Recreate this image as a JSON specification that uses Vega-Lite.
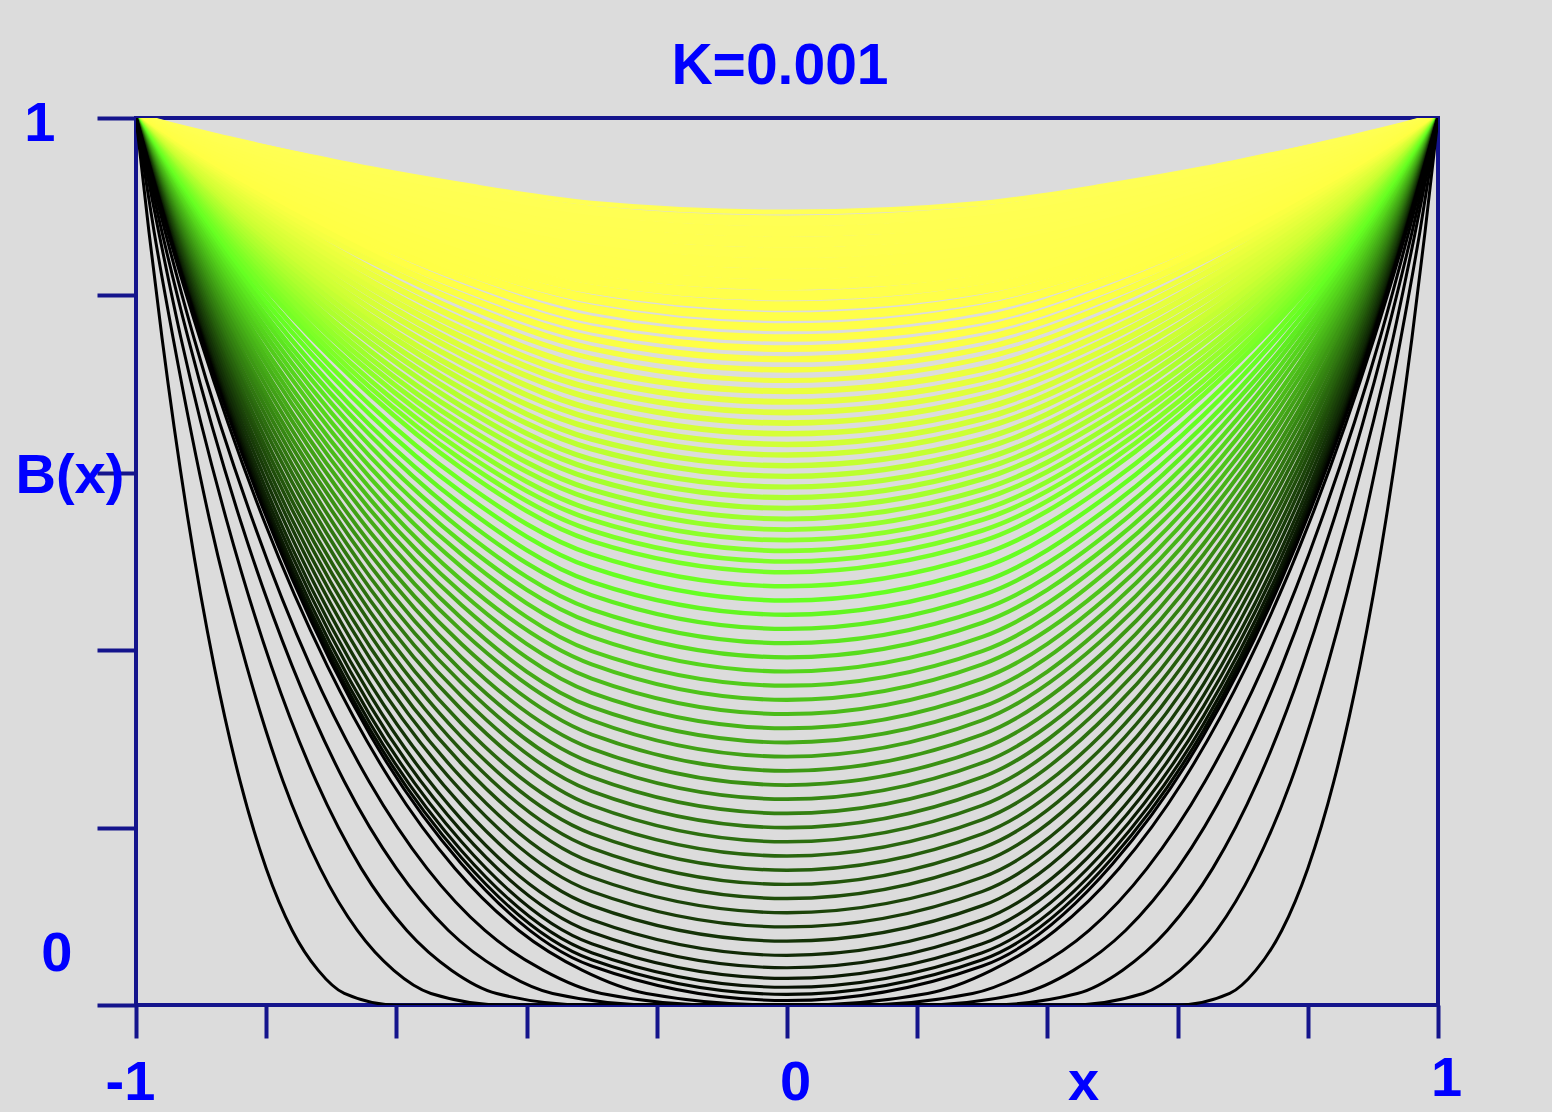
{
"$schema":"https://vega.github.io/schema/vega-lite/v6.json",
"width":1302,"height":887,
"autosize":{"type":"none"},
"padding":{"left":136,"top":118,"right":114,"bottom":107},
"background":"#dcdcdc",
"title":{"text":"K=0.001","font":"Liberation Sans","fontSize":57,"fontWeight":"bold","color":"#0000ff","anchor":"middle","frame":"group","dx":-7,"dy":58,"offset":12,"baseline":"alphabetic"},
"config":{"view":{"stroke":"#14148c","strokeWidth":4}},
"data":{"values":[
{"k":73,"x":-1,"b":1},{"k":73,"x":-0.94,"b":0.989},{"k":73,"x":-0.86,"b":0.976},{"k":73,"x":-0.76,"b":0.961},{"k":73,"x":-0.64,"b":0.943},{"k":73,"x":-0.5,"b":0.925},{"k":73,"x":-0.3,"b":0.904},{"k":73,"x":0,"b":0.894},{"k":73,"x":0.3,"b":0.904},{"k":73,"x":0.5,"b":0.925},{"k":73,"x":0.64,"b":0.943},{"k":73,"x":0.76,"b":0.961},{"k":73,"x":0.86,"b":0.976},{"k":73,"x":0.94,"b":0.989},{"k":73,"x":1,"b":1},
{"k":72,"x":-1,"b":1},{"k":72,"x":-0.94,"b":0.988},{"k":72,"x":-0.86,"b":0.974},{"k":72,"x":-0.76,"b":0.957},{"k":72,"x":-0.64,"b":0.938},{"k":72,"x":-0.5,"b":0.917},{"k":72,"x":-0.3,"b":0.895},{"k":72,"x":0,"b":0.884},{"k":72,"x":0.3,"b":0.895},{"k":72,"x":0.5,"b":0.917},{"k":72,"x":0.64,"b":0.938},{"k":72,"x":0.76,"b":0.957},{"k":72,"x":0.86,"b":0.974},{"k":72,"x":0.94,"b":0.988},{"k":72,"x":1,"b":1},
{"k":71,"x":-1,"b":1},{"k":71,"x":-0.94,"b":0.987},{"k":71,"x":-0.86,"b":0.971},{"k":71,"x":-0.76,"b":0.952},{"k":71,"x":-0.64,"b":0.931},{"k":71,"x":-0.5,"b":0.909},{"k":71,"x":-0.3,"b":0.884},{"k":71,"x":0,"b":0.872},{"k":71,"x":0.3,"b":0.884},{"k":71,"x":0.5,"b":0.909},{"k":71,"x":0.64,"b":0.931},{"k":71,"x":0.76,"b":0.952},{"k":71,"x":0.86,"b":0.971},{"k":71,"x":0.94,"b":0.987},{"k":71,"x":1,"b":1},
{"k":70,"x":-1,"b":1},{"k":70,"x":-0.94,"b":0.986},{"k":70,"x":-0.86,"b":0.968},{"k":70,"x":-0.76,"b":0.947},{"k":70,"x":-0.64,"b":0.924},{"k":70,"x":-0.5,"b":0.9},{"k":70,"x":-0.3,"b":0.873},{"k":70,"x":0,"b":0.86},{"k":70,"x":0.3,"b":0.873},{"k":70,"x":0.5,"b":0.9},{"k":70,"x":0.64,"b":0.924},{"k":70,"x":0.76,"b":0.947},{"k":70,"x":0.86,"b":0.968},{"k":70,"x":0.94,"b":0.986},{"k":70,"x":1,"b":1},
{"k":69,"x":-1,"b":1},{"k":69,"x":-0.94,"b":0.984},{"k":69,"x":-0.86,"b":0.965},{"k":69,"x":-0.76,"b":0.943},{"k":69,"x":-0.64,"b":0.917},{"k":69,"x":-0.5,"b":0.891},{"k":69,"x":-0.3,"b":0.862},{"k":69,"x":0,"b":0.848},{"k":69,"x":0.3,"b":0.862},{"k":69,"x":0.5,"b":0.891},{"k":69,"x":0.64,"b":0.917},{"k":69,"x":0.76,"b":0.943},{"k":69,"x":0.86,"b":0.965},{"k":69,"x":0.94,"b":0.984},{"k":69,"x":1,"b":1},
{"k":68,"x":-1,"b":1},{"k":68,"x":-0.94,"b":0.983},{"k":68,"x":-0.86,"b":0.962},{"k":68,"x":-0.76,"b":0.938},{"k":68,"x":-0.64,"b":0.911},{"k":68,"x":-0.5,"b":0.882},{"k":68,"x":-0.3,"b":0.851},{"k":68,"x":0,"b":0.836},{"k":68,"x":0.3,"b":0.851},{"k":68,"x":0.5,"b":0.882},{"k":68,"x":0.64,"b":0.911},{"k":68,"x":0.76,"b":0.938},{"k":68,"x":0.86,"b":0.962},{"k":68,"x":0.94,"b":0.983},{"k":68,"x":1,"b":1},
{"k":67,"x":-1,"b":1},{"k":67,"x":-0.94,"b":0.982},{"k":67,"x":-0.86,"b":0.959},{"k":67,"x":-0.76,"b":0.933},{"k":67,"x":-0.64,"b":0.904},{"k":67,"x":-0.5,"b":0.873},{"k":67,"x":-0.3,"b":0.84},{"k":67,"x":0,"b":0.824},{"k":67,"x":0.3,"b":0.84},{"k":67,"x":0.5,"b":0.873},{"k":67,"x":0.64,"b":0.904},{"k":67,"x":0.76,"b":0.933},{"k":67,"x":0.86,"b":0.959},{"k":67,"x":0.94,"b":0.982},{"k":67,"x":1,"b":1},
{"k":66,"x":-1,"b":1},{"k":66,"x":-0.94,"b":0.98},{"k":66,"x":-0.86,"b":0.956},{"k":66,"x":-0.76,"b":0.928},{"k":66,"x":-0.64,"b":0.897},{"k":66,"x":-0.5,"b":0.864},{"k":66,"x":-0.3,"b":0.829},{"k":66,"x":0,"b":0.812},{"k":66,"x":0.3,"b":0.829},{"k":66,"x":0.5,"b":0.864},{"k":66,"x":0.64,"b":0.897},{"k":66,"x":0.76,"b":0.928},{"k":66,"x":0.86,"b":0.956},{"k":66,"x":0.94,"b":0.98},{"k":66,"x":1,"b":1},
{"k":65,"x":-1,"b":1},{"k":65,"x":-0.94,"b":0.979},{"k":65,"x":-0.86,"b":0.953},{"k":65,"x":-0.76,"b":0.923},{"k":65,"x":-0.64,"b":0.89},{"k":65,"x":-0.5,"b":0.855},{"k":65,"x":-0.3,"b":0.818},{"k":65,"x":0,"b":0.8},{"k":65,"x":0.3,"b":0.818},{"k":65,"x":0.5,"b":0.855},{"k":65,"x":0.64,"b":0.89},{"k":65,"x":0.76,"b":0.923},{"k":65,"x":0.86,"b":0.953},{"k":65,"x":0.94,"b":0.979},{"k":65,"x":1,"b":1},
{"k":64,"x":-1,"b":1},{"k":64,"x":-0.94,"b":0.977},{"k":64,"x":-0.86,"b":0.95},{"k":64,"x":-0.76,"b":0.918},{"k":64,"x":-0.64,"b":0.882},{"k":64,"x":-0.5,"b":0.846},{"k":64,"x":-0.3,"b":0.807},{"k":64,"x":0,"b":0.788},{"k":64,"x":0.3,"b":0.807},{"k":64,"x":0.5,"b":0.846},{"k":64,"x":0.64,"b":0.882},{"k":64,"x":0.76,"b":0.918},{"k":64,"x":0.86,"b":0.95},{"k":64,"x":0.94,"b":0.977},{"k":64,"x":1,"b":1},
{"k":63,"x":-1,"b":1},{"k":63,"x":-0.94,"b":0.976},{"k":63,"x":-0.86,"b":0.946},{"k":63,"x":-0.76,"b":0.913},{"k":63,"x":-0.64,"b":0.875},{"k":63,"x":-0.5,"b":0.837},{"k":63,"x":-0.3,"b":0.796},{"k":63,"x":0,"b":0.776},{"k":63,"x":0.3,"b":0.796},{"k":63,"x":0.5,"b":0.837},{"k":63,"x":0.64,"b":0.875},{"k":63,"x":0.76,"b":0.913},{"k":63,"x":0.86,"b":0.946},{"k":63,"x":0.94,"b":0.976},{"k":63,"x":1,"b":1},
{"k":62,"x":-1,"b":1},{"k":62,"x":-0.94,"b":0.975},{"k":62,"x":-0.86,"b":0.943},{"k":62,"x":-0.76,"b":0.907},{"k":62,"x":-0.64,"b":0.868},{"k":62,"x":-0.5,"b":0.828},{"k":62,"x":-0.3,"b":0.785},{"k":62,"x":0,"b":0.764},{"k":62,"x":0.3,"b":0.785},{"k":62,"x":0.5,"b":0.828},{"k":62,"x":0.64,"b":0.868},{"k":62,"x":0.76,"b":0.907},{"k":62,"x":0.86,"b":0.943},{"k":62,"x":0.94,"b":0.975},{"k":62,"x":1,"b":1},
{"k":61,"x":-1,"b":1},{"k":61,"x":-0.94,"b":0.973},{"k":61,"x":-0.86,"b":0.94},{"k":61,"x":-0.76,"b":0.902},{"k":61,"x":-0.64,"b":0.861},{"k":61,"x":-0.5,"b":0.819},{"k":61,"x":-0.3,"b":0.773},{"k":61,"x":0,"b":0.752},{"k":61,"x":0.3,"b":0.773},{"k":61,"x":0.5,"b":0.819},{"k":61,"x":0.64,"b":0.861},{"k":61,"x":0.76,"b":0.902},{"k":61,"x":0.86,"b":0.94},{"k":61,"x":0.94,"b":0.973},{"k":61,"x":1,"b":1},
{"k":60,"x":-1,"b":1},{"k":60,"x":-0.94,"b":0.972},{"k":60,"x":-0.86,"b":0.937},{"k":60,"x":-0.76,"b":0.897},{"k":60,"x":-0.64,"b":0.853},{"k":60,"x":-0.5,"b":0.809},{"k":60,"x":-0.3,"b":0.762},{"k":60,"x":0,"b":0.74},{"k":60,"x":0.3,"b":0.762},{"k":60,"x":0.5,"b":0.809},{"k":60,"x":0.64,"b":0.853},{"k":60,"x":0.76,"b":0.897},{"k":60,"x":0.86,"b":0.937},{"k":60,"x":0.94,"b":0.972},{"k":60,"x":1,"b":1},
{"k":59,"x":-1,"b":1},{"k":59,"x":-0.94,"b":0.97},{"k":59,"x":-0.86,"b":0.933},{"k":59,"x":-0.76,"b":0.892},{"k":59,"x":-0.64,"b":0.846},{"k":59,"x":-0.5,"b":0.8},{"k":59,"x":-0.3,"b":0.751},{"k":59,"x":0,"b":0.728},{"k":59,"x":0.3,"b":0.751},{"k":59,"x":0.5,"b":0.8},{"k":59,"x":0.64,"b":0.846},{"k":59,"x":0.76,"b":0.892},{"k":59,"x":0.86,"b":0.933},{"k":59,"x":0.94,"b":0.97},{"k":59,"x":1,"b":1},
{"k":58,"x":-1,"b":1},{"k":58,"x":-0.94,"b":0.969},{"k":58,"x":-0.86,"b":0.93},{"k":58,"x":-0.76,"b":0.886},{"k":58,"x":-0.64,"b":0.839},{"k":58,"x":-0.5,"b":0.791},{"k":58,"x":-0.3,"b":0.74},{"k":58,"x":0,"b":0.716},{"k":58,"x":0.3,"b":0.74},{"k":58,"x":0.5,"b":0.791},{"k":58,"x":0.64,"b":0.839},{"k":58,"x":0.76,"b":0.886},{"k":58,"x":0.86,"b":0.93},{"k":58,"x":0.94,"b":0.969},{"k":58,"x":1,"b":1},
{"k":57,"x":-1,"b":1},{"k":57,"x":-0.94,"b":0.967},{"k":57,"x":-0.86,"b":0.927},{"k":57,"x":-0.76,"b":0.881},{"k":57,"x":-0.64,"b":0.831},{"k":57,"x":-0.5,"b":0.781},{"k":57,"x":-0.3,"b":0.729},{"k":57,"x":0,"b":0.704},{"k":57,"x":0.3,"b":0.729},{"k":57,"x":0.5,"b":0.781},{"k":57,"x":0.64,"b":0.831},{"k":57,"x":0.76,"b":0.881},{"k":57,"x":0.86,"b":0.927},{"k":57,"x":0.94,"b":0.967},{"k":57,"x":1,"b":1},
{"k":56,"x":-1,"b":1},{"k":56,"x":-0.94,"b":0.965},{"k":56,"x":-0.86,"b":0.923},{"k":56,"x":-0.76,"b":0.875},{"k":56,"x":-0.64,"b":0.824},{"k":56,"x":-0.5,"b":0.772},{"k":56,"x":-0.3,"b":0.717},{"k":56,"x":0,"b":0.692},{"k":56,"x":0.3,"b":0.717},{"k":56,"x":0.5,"b":0.772},{"k":56,"x":0.64,"b":0.824},{"k":56,"x":0.76,"b":0.875},{"k":56,"x":0.86,"b":0.923},{"k":56,"x":0.94,"b":0.965},{"k":56,"x":1,"b":1},
{"k":55,"x":-1,"b":1},{"k":55,"x":-0.94,"b":0.964},{"k":55,"x":-0.86,"b":0.92},{"k":55,"x":-0.76,"b":0.87},{"k":55,"x":-0.64,"b":0.816},{"k":55,"x":-0.5,"b":0.762},{"k":55,"x":-0.3,"b":0.706},{"k":55,"x":0,"b":0.68},{"k":55,"x":0.3,"b":0.706},{"k":55,"x":0.5,"b":0.762},{"k":55,"x":0.64,"b":0.816},{"k":55,"x":0.76,"b":0.87},{"k":55,"x":0.86,"b":0.92},{"k":55,"x":0.94,"b":0.964},{"k":55,"x":1,"b":1},
{"k":54,"x":-1,"b":1},{"k":54,"x":-0.94,"b":0.962},{"k":54,"x":-0.86,"b":0.916},{"k":54,"x":-0.76,"b":0.864},{"k":54,"x":-0.64,"b":0.809},{"k":54,"x":-0.5,"b":0.753},{"k":54,"x":-0.3,"b":0.695},{"k":54,"x":0,"b":0.668},{"k":54,"x":0.3,"b":0.695},{"k":54,"x":0.5,"b":0.753},{"k":54,"x":0.64,"b":0.809},{"k":54,"x":0.76,"b":0.864},{"k":54,"x":0.86,"b":0.916},{"k":54,"x":0.94,"b":0.962},{"k":54,"x":1,"b":1},
{"k":53,"x":-1,"b":1},{"k":53,"x":-0.94,"b":0.961},{"k":53,"x":-0.86,"b":0.913},{"k":53,"x":-0.76,"b":0.859},{"k":53,"x":-0.64,"b":0.801},{"k":53,"x":-0.5,"b":0.743},{"k":53,"x":-0.3,"b":0.684},{"k":53,"x":0,"b":0.656},{"k":53,"x":0.3,"b":0.684},{"k":53,"x":0.5,"b":0.743},{"k":53,"x":0.64,"b":0.801},{"k":53,"x":0.76,"b":0.859},{"k":53,"x":0.86,"b":0.913},{"k":53,"x":0.94,"b":0.961},{"k":53,"x":1,"b":1},
{"k":52,"x":-1,"b":1},{"k":52,"x":-0.94,"b":0.959},{"k":52,"x":-0.86,"b":0.909},{"k":52,"x":-0.76,"b":0.853},{"k":52,"x":-0.64,"b":0.793},{"k":52,"x":-0.5,"b":0.734},{"k":52,"x":-0.3,"b":0.672},{"k":52,"x":0,"b":0.644},{"k":52,"x":0.3,"b":0.672},{"k":52,"x":0.5,"b":0.734},{"k":52,"x":0.64,"b":0.793},{"k":52,"x":0.76,"b":0.853},{"k":52,"x":0.86,"b":0.909},{"k":52,"x":0.94,"b":0.959},{"k":52,"x":1,"b":1},
{"k":51,"x":-1,"b":1},{"k":51,"x":-0.94,"b":0.957},{"k":51,"x":-0.86,"b":0.905},{"k":51,"x":-0.76,"b":0.847},{"k":51,"x":-0.64,"b":0.785},{"k":51,"x":-0.5,"b":0.724},{"k":51,"x":-0.3,"b":0.661},{"k":51,"x":0,"b":0.632},{"k":51,"x":0.3,"b":0.661},{"k":51,"x":0.5,"b":0.724},{"k":51,"x":0.64,"b":0.785},{"k":51,"x":0.76,"b":0.847},{"k":51,"x":0.86,"b":0.905},{"k":51,"x":0.94,"b":0.957},{"k":51,"x":1,"b":1},
{"k":50,"x":-1,"b":1},{"k":50,"x":-0.94,"b":0.956},{"k":50,"x":-0.86,"b":0.902},{"k":50,"x":-0.76,"b":0.842},{"k":50,"x":-0.64,"b":0.777},{"k":50,"x":-0.5,"b":0.714},{"k":50,"x":-0.3,"b":0.65},{"k":50,"x":0,"b":0.62},{"k":50,"x":0.3,"b":0.65},{"k":50,"x":0.5,"b":0.714},{"k":50,"x":0.64,"b":0.777},{"k":50,"x":0.76,"b":0.842},{"k":50,"x":0.86,"b":0.902},{"k":50,"x":0.94,"b":0.956},{"k":50,"x":1,"b":1},
{"k":49,"x":-1,"b":1},{"k":49,"x":-0.94,"b":0.954},{"k":49,"x":-0.86,"b":0.898},{"k":49,"x":-0.76,"b":0.836},{"k":49,"x":-0.64,"b":0.77},{"k":49,"x":-0.5,"b":0.705},{"k":49,"x":-0.3,"b":0.638},{"k":49,"x":0,"b":0.608},{"k":49,"x":0.3,"b":0.638},{"k":49,"x":0.5,"b":0.705},{"k":49,"x":0.64,"b":0.77},{"k":49,"x":0.76,"b":0.836},{"k":49,"x":0.86,"b":0.898},{"k":49,"x":0.94,"b":0.954},{"k":49,"x":1,"b":1},
{"k":48,"x":-1,"b":1},{"k":48,"x":-0.94,"b":0.952},{"k":48,"x":-0.86,"b":0.894},{"k":48,"x":-0.76,"b":0.83},{"k":48,"x":-0.64,"b":0.762},{"k":48,"x":-0.5,"b":0.695},{"k":48,"x":-0.3,"b":0.627},{"k":48,"x":0,"b":0.596},{"k":48,"x":0.3,"b":0.627},{"k":48,"x":0.5,"b":0.695},{"k":48,"x":0.64,"b":0.762},{"k":48,"x":0.76,"b":0.83},{"k":48,"x":0.86,"b":0.894},{"k":48,"x":0.94,"b":0.952},{"k":48,"x":1,"b":1},
{"k":47,"x":-1,"b":1},{"k":47,"x":-0.94,"b":0.951},{"k":47,"x":-0.86,"b":0.891},{"k":47,"x":-0.76,"b":0.824},{"k":47,"x":-0.64,"b":0.754},{"k":47,"x":-0.5,"b":0.685},{"k":47,"x":-0.3,"b":0.615},{"k":47,"x":0,"b":0.584},{"k":47,"x":0.3,"b":0.615},{"k":47,"x":0.5,"b":0.685},{"k":47,"x":0.64,"b":0.754},{"k":47,"x":0.76,"b":0.824},{"k":47,"x":0.86,"b":0.891},{"k":47,"x":0.94,"b":0.951},{"k":47,"x":1,"b":1},
{"k":46,"x":-1,"b":1},{"k":46,"x":-0.94,"b":0.949},{"k":46,"x":-0.86,"b":0.887},{"k":46,"x":-0.76,"b":0.818},{"k":46,"x":-0.64,"b":0.746},{"k":46,"x":-0.5,"b":0.675},{"k":46,"x":-0.3,"b":0.604},{"k":46,"x":0,"b":0.572},{"k":46,"x":0.3,"b":0.604},{"k":46,"x":0.5,"b":0.675},{"k":46,"x":0.64,"b":0.746},{"k":46,"x":0.76,"b":0.818},{"k":46,"x":0.86,"b":0.887},{"k":46,"x":0.94,"b":0.949},{"k":46,"x":1,"b":1},
{"k":45,"x":-1,"b":1},{"k":45,"x":-0.94,"b":0.947},{"k":45,"x":-0.86,"b":0.883},{"k":45,"x":-0.76,"b":0.812},{"k":45,"x":-0.64,"b":0.737},{"k":45,"x":-0.5,"b":0.665},{"k":45,"x":-0.3,"b":0.593},{"k":45,"x":0,"b":0.56},{"k":45,"x":0.3,"b":0.593},{"k":45,"x":0.5,"b":0.665},{"k":45,"x":0.64,"b":0.737},{"k":45,"x":0.76,"b":0.812},{"k":45,"x":0.86,"b":0.883},{"k":45,"x":0.94,"b":0.947},{"k":45,"x":1,"b":1},
{"k":44,"x":-1,"b":1},{"k":44,"x":-0.94,"b":0.945},{"k":44,"x":-0.86,"b":0.879},{"k":44,"x":-0.76,"b":0.806},{"k":44,"x":-0.64,"b":0.729},{"k":44,"x":-0.5,"b":0.655},{"k":44,"x":-0.3,"b":0.581},{"k":44,"x":0,"b":0.548},{"k":44,"x":0.3,"b":0.581},{"k":44,"x":0.5,"b":0.655},{"k":44,"x":0.64,"b":0.729},{"k":44,"x":0.76,"b":0.806},{"k":44,"x":0.86,"b":0.879},{"k":44,"x":0.94,"b":0.945},{"k":44,"x":1,"b":1},
{"k":43,"x":-1,"b":1},{"k":43,"x":-0.94,"b":0.944},{"k":43,"x":-0.86,"b":0.875},{"k":43,"x":-0.76,"b":0.8},{"k":43,"x":-0.64,"b":0.721},{"k":43,"x":-0.5,"b":0.645},{"k":43,"x":-0.3,"b":0.57},{"k":43,"x":0,"b":0.536},{"k":43,"x":0.3,"b":0.57},{"k":43,"x":0.5,"b":0.645},{"k":43,"x":0.64,"b":0.721},{"k":43,"x":0.76,"b":0.8},{"k":43,"x":0.86,"b":0.875},{"k":43,"x":0.94,"b":0.944},{"k":43,"x":1,"b":1},
{"k":42,"x":-1,"b":1},{"k":42,"x":-0.94,"b":0.942},{"k":42,"x":-0.86,"b":0.871},{"k":42,"x":-0.76,"b":0.794},{"k":42,"x":-0.64,"b":0.713},{"k":42,"x":-0.5,"b":0.635},{"k":42,"x":-0.3,"b":0.558},{"k":42,"x":0,"b":0.524},{"k":42,"x":0.3,"b":0.558},{"k":42,"x":0.5,"b":0.635},{"k":42,"x":0.64,"b":0.713},{"k":42,"x":0.76,"b":0.794},{"k":42,"x":0.86,"b":0.871},{"k":42,"x":0.94,"b":0.942},{"k":42,"x":1,"b":1},
{"k":41,"x":-1,"b":1},{"k":41,"x":-0.94,"b":0.94},{"k":41,"x":-0.86,"b":0.867},{"k":41,"x":-0.76,"b":0.787},{"k":41,"x":-0.64,"b":0.704},{"k":41,"x":-0.5,"b":0.625},{"k":41,"x":-0.3,"b":0.547},{"k":41,"x":0,"b":0.512},{"k":41,"x":0.3,"b":0.547},{"k":41,"x":0.5,"b":0.625},{"k":41,"x":0.64,"b":0.704},{"k":41,"x":0.76,"b":0.787},{"k":41,"x":0.86,"b":0.867},{"k":41,"x":0.94,"b":0.94},{"k":41,"x":1,"b":1},
{"k":40,"x":-1,"b":1},{"k":40,"x":-0.94,"b":0.938},{"k":40,"x":-0.86,"b":0.863},{"k":40,"x":-0.76,"b":0.781},{"k":40,"x":-0.64,"b":0.696},{"k":40,"x":-0.5,"b":0.615},{"k":40,"x":-0.3,"b":0.535},{"k":40,"x":0,"b":0.5},{"k":40,"x":0.3,"b":0.535},{"k":40,"x":0.5,"b":0.615},{"k":40,"x":0.64,"b":0.696},{"k":40,"x":0.76,"b":0.781},{"k":40,"x":0.86,"b":0.863},{"k":40,"x":0.94,"b":0.938},{"k":40,"x":1,"b":1},
{"k":39,"x":-1,"b":1},{"k":39,"x":-0.94,"b":0.936},{"k":39,"x":-0.86,"b":0.859},{"k":39,"x":-0.76,"b":0.775},{"k":39,"x":-0.64,"b":0.688},{"k":39,"x":-0.5,"b":0.605},{"k":39,"x":-0.3,"b":0.523},{"k":39,"x":0,"b":0.488},{"k":39,"x":0.3,"b":0.523},{"k":39,"x":0.5,"b":0.605},{"k":39,"x":0.64,"b":0.688},{"k":39,"x":0.76,"b":0.775},{"k":39,"x":0.86,"b":0.859},{"k":39,"x":0.94,"b":0.936},{"k":39,"x":1,"b":1},
{"k":38,"x":-1,"b":1},{"k":38,"x":-0.94,"b":0.934},{"k":38,"x":-0.86,"b":0.854},{"k":38,"x":-0.76,"b":0.766},{"k":38,"x":-0.64,"b":0.676},{"k":38,"x":-0.5,"b":0.591},{"k":38,"x":-0.3,"b":0.508},{"k":38,"x":0,"b":0.472},{"k":38,"x":0.3,"b":0.508},{"k":38,"x":0.5,"b":0.591},{"k":38,"x":0.64,"b":0.676},{"k":38,"x":0.76,"b":0.766},{"k":38,"x":0.86,"b":0.854},{"k":38,"x":0.94,"b":0.934},{"k":38,"x":1,"b":1},
{"k":37,"x":-1,"b":1},{"k":37,"x":-0.94,"b":0.931},{"k":37,"x":-0.86,"b":0.848},{"k":37,"x":-0.76,"b":0.758},{"k":37,"x":-0.64,"b":0.665},{"k":37,"x":-0.5,"b":0.578},{"k":37,"x":-0.3,"b":0.493},{"k":37,"x":0,"b":0.456},{"k":37,"x":0.3,"b":0.493},{"k":37,"x":0.5,"b":0.578},{"k":37,"x":0.64,"b":0.665},{"k":37,"x":0.76,"b":0.758},{"k":37,"x":0.86,"b":0.848},{"k":37,"x":0.94,"b":0.931},{"k":37,"x":1,"b":1},
{"k":36,"x":-1,"b":1},{"k":36,"x":-0.94,"b":0.929},{"k":36,"x":-0.86,"b":0.843},{"k":36,"x":-0.76,"b":0.749},{"k":36,"x":-0.64,"b":0.653},{"k":36,"x":-0.5,"b":0.564},{"k":36,"x":-0.3,"b":0.477},{"k":36,"x":0,"b":0.44},{"k":36,"x":0.3,"b":0.477},{"k":36,"x":0.5,"b":0.564},{"k":36,"x":0.64,"b":0.653},{"k":36,"x":0.76,"b":0.749},{"k":36,"x":0.86,"b":0.843},{"k":36,"x":0.94,"b":0.929},{"k":36,"x":1,"b":1},
{"k":35,"x":-1,"b":1},{"k":35,"x":-0.94,"b":0.926},{"k":35,"x":-0.86,"b":0.837},{"k":35,"x":-0.76,"b":0.74},{"k":35,"x":-0.64,"b":0.642},{"k":35,"x":-0.5,"b":0.55},{"k":35,"x":-0.3,"b":0.462},{"k":35,"x":0,"b":0.424},{"k":35,"x":0.3,"b":0.462},{"k":35,"x":0.5,"b":0.55},{"k":35,"x":0.64,"b":0.642},{"k":35,"x":0.76,"b":0.74},{"k":35,"x":0.86,"b":0.837},{"k":35,"x":0.94,"b":0.926},{"k":35,"x":1,"b":1},
{"k":34,"x":-1,"b":1},{"k":34,"x":-0.94,"b":0.923},{"k":34,"x":-0.86,"b":0.832},{"k":34,"x":-0.76,"b":0.732},{"k":34,"x":-0.64,"b":0.63},{"k":34,"x":-0.5,"b":0.536},{"k":34,"x":-0.3,"b":0.446},{"k":34,"x":0,"b":0.408},{"k":34,"x":0.3,"b":0.446},{"k":34,"x":0.5,"b":0.536},{"k":34,"x":0.64,"b":0.63},{"k":34,"x":0.76,"b":0.732},{"k":34,"x":0.86,"b":0.832},{"k":34,"x":0.94,"b":0.923},{"k":34,"x":1,"b":1},
{"k":33,"x":-1,"b":1},{"k":33,"x":-0.94,"b":0.921},{"k":33,"x":-0.86,"b":0.826},{"k":33,"x":-0.76,"b":0.723},{"k":33,"x":-0.64,"b":0.618},{"k":33,"x":-0.5,"b":0.522},{"k":33,"x":-0.3,"b":0.431},{"k":33,"x":0,"b":0.392},{"k":33,"x":0.3,"b":0.431},{"k":33,"x":0.5,"b":0.522},{"k":33,"x":0.64,"b":0.618},{"k":33,"x":0.76,"b":0.723},{"k":33,"x":0.86,"b":0.826},{"k":33,"x":0.94,"b":0.921},{"k":33,"x":1,"b":1},
{"k":32,"x":-1,"b":1},{"k":32,"x":-0.94,"b":0.918},{"k":32,"x":-0.86,"b":0.82},{"k":32,"x":-0.76,"b":0.714},{"k":32,"x":-0.64,"b":0.606},{"k":32,"x":-0.5,"b":0.508},{"k":32,"x":-0.3,"b":0.415},{"k":32,"x":0,"b":0.376},{"k":32,"x":0.3,"b":0.415},{"k":32,"x":0.5,"b":0.508},{"k":32,"x":0.64,"b":0.606},{"k":32,"x":0.76,"b":0.714},{"k":32,"x":0.86,"b":0.82},{"k":32,"x":0.94,"b":0.918},{"k":32,"x":1,"b":1},
{"k":31,"x":-1,"b":1},{"k":31,"x":-0.94,"b":0.915},{"k":31,"x":-0.86,"b":0.814},{"k":31,"x":-0.76,"b":0.705},{"k":31,"x":-0.64,"b":0.594},{"k":31,"x":-0.5,"b":0.494},{"k":31,"x":-0.3,"b":0.399},{"k":31,"x":0,"b":0.36},{"k":31,"x":0.3,"b":0.399},{"k":31,"x":0.5,"b":0.494},{"k":31,"x":0.64,"b":0.594},{"k":31,"x":0.76,"b":0.705},{"k":31,"x":0.86,"b":0.814},{"k":31,"x":0.94,"b":0.915},{"k":31,"x":1,"b":1},
{"k":30,"x":-1,"b":1},{"k":30,"x":-0.94,"b":0.913},{"k":30,"x":-0.86,"b":0.808},{"k":30,"x":-0.76,"b":0.695},{"k":30,"x":-0.64,"b":0.582},{"k":30,"x":-0.5,"b":0.479},{"k":30,"x":-0.3,"b":0.384},{"k":30,"x":0,"b":0.344},{"k":30,"x":0.3,"b":0.384},{"k":30,"x":0.5,"b":0.479},{"k":30,"x":0.64,"b":0.582},{"k":30,"x":0.76,"b":0.695},{"k":30,"x":0.86,"b":0.808},{"k":30,"x":0.94,"b":0.913},{"k":30,"x":1,"b":1},
{"k":29,"x":-1,"b":1},{"k":29,"x":-0.94,"b":0.91},{"k":29,"x":-0.86,"b":0.802},{"k":29,"x":-0.76,"b":0.686},{"k":29,"x":-0.64,"b":0.57},{"k":29,"x":-0.5,"b":0.465},{"k":29,"x":-0.3,"b":0.368},{"k":29,"x":0,"b":0.328},{"k":29,"x":0.3,"b":0.368},{"k":29,"x":0.5,"b":0.465},{"k":29,"x":0.64,"b":0.57},{"k":29,"x":0.76,"b":0.686},{"k":29,"x":0.86,"b":0.802},{"k":29,"x":0.94,"b":0.91},{"k":29,"x":1,"b":1},
{"k":28,"x":-1,"b":1},{"k":28,"x":-0.94,"b":0.907},{"k":28,"x":-0.86,"b":0.796},{"k":28,"x":-0.76,"b":0.677},{"k":28,"x":-0.64,"b":0.558},{"k":28,"x":-0.5,"b":0.451},{"k":28,"x":-0.3,"b":0.352},{"k":28,"x":0,"b":0.312},{"k":28,"x":0.3,"b":0.352},{"k":28,"x":0.5,"b":0.451},{"k":28,"x":0.64,"b":0.558},{"k":28,"x":0.76,"b":0.677},{"k":28,"x":0.86,"b":0.796},{"k":28,"x":0.94,"b":0.907},{"k":28,"x":1,"b":1},
{"k":27,"x":-1,"b":1},{"k":27,"x":-0.94,"b":0.904},{"k":27,"x":-0.86,"b":0.79},{"k":27,"x":-0.76,"b":0.667},{"k":27,"x":-0.64,"b":0.546},{"k":27,"x":-0.5,"b":0.436},{"k":27,"x":-0.3,"b":0.336},{"k":27,"x":0,"b":0.296},{"k":27,"x":0.3,"b":0.336},{"k":27,"x":0.5,"b":0.436},{"k":27,"x":0.64,"b":0.546},{"k":27,"x":0.76,"b":0.667},{"k":27,"x":0.86,"b":0.79},{"k":27,"x":0.94,"b":0.904},{"k":27,"x":1,"b":1},
{"k":26,"x":-1,"b":1},{"k":26,"x":-0.94,"b":0.901},{"k":26,"x":-0.86,"b":0.784},{"k":26,"x":-0.76,"b":0.658},{"k":26,"x":-0.64,"b":0.533},{"k":26,"x":-0.5,"b":0.422},{"k":26,"x":-0.3,"b":0.321},{"k":26,"x":0,"b":0.28},{"k":26,"x":0.3,"b":0.321},{"k":26,"x":0.5,"b":0.422},{"k":26,"x":0.64,"b":0.533},{"k":26,"x":0.76,"b":0.658},{"k":26,"x":0.86,"b":0.784},{"k":26,"x":0.94,"b":0.901},{"k":26,"x":1,"b":1},
{"k":25,"x":-1,"b":1},{"k":25,"x":-0.94,"b":0.898},{"k":25,"x":-0.86,"b":0.778},{"k":25,"x":-0.76,"b":0.648},{"k":25,"x":-0.64,"b":0.52},{"k":25,"x":-0.5,"b":0.407},{"k":25,"x":-0.3,"b":0.305},{"k":25,"x":0,"b":0.264},{"k":25,"x":0.3,"b":0.305},{"k":25,"x":0.5,"b":0.407},{"k":25,"x":0.64,"b":0.52},{"k":25,"x":0.76,"b":0.648},{"k":25,"x":0.86,"b":0.778},{"k":25,"x":0.94,"b":0.898},{"k":25,"x":1,"b":1},
{"k":24,"x":-1,"b":1},{"k":24,"x":-0.94,"b":0.895},{"k":24,"x":-0.86,"b":0.771},{"k":24,"x":-0.76,"b":0.638},{"k":24,"x":-0.64,"b":0.508},{"k":24,"x":-0.5,"b":0.392},{"k":24,"x":-0.3,"b":0.289},{"k":24,"x":0,"b":0.248},{"k":24,"x":0.3,"b":0.289},{"k":24,"x":0.5,"b":0.392},{"k":24,"x":0.64,"b":0.508},{"k":24,"x":0.76,"b":0.638},{"k":24,"x":0.86,"b":0.771},{"k":24,"x":0.94,"b":0.895},{"k":24,"x":1,"b":1},
{"k":23,"x":-1,"b":1},{"k":23,"x":-0.94,"b":0.892},{"k":23,"x":-0.86,"b":0.765},{"k":23,"x":-0.76,"b":0.629},{"k":23,"x":-0.64,"b":0.495},{"k":23,"x":-0.5,"b":0.377},{"k":23,"x":-0.3,"b":0.273},{"k":23,"x":0,"b":0.232},{"k":23,"x":0.3,"b":0.273},{"k":23,"x":0.5,"b":0.377},{"k":23,"x":0.64,"b":0.495},{"k":23,"x":0.76,"b":0.629},{"k":23,"x":0.86,"b":0.765},{"k":23,"x":0.94,"b":0.892},{"k":23,"x":1,"b":1},
{"k":22,"x":-1,"b":1},{"k":22,"x":-0.94,"b":0.889},{"k":22,"x":-0.86,"b":0.759},{"k":22,"x":-0.76,"b":0.619},{"k":22,"x":-0.64,"b":0.482},{"k":22,"x":-0.5,"b":0.363},{"k":22,"x":-0.3,"b":0.257},{"k":22,"x":0,"b":0.216},{"k":22,"x":0.3,"b":0.257},{"k":22,"x":0.5,"b":0.363},{"k":22,"x":0.64,"b":0.482},{"k":22,"x":0.76,"b":0.619},{"k":22,"x":0.86,"b":0.759},{"k":22,"x":0.94,"b":0.889},{"k":22,"x":1,"b":1},
{"k":21,"x":-1,"b":1},{"k":21,"x":-0.94,"b":0.886},{"k":21,"x":-0.86,"b":0.752},{"k":21,"x":-0.76,"b":0.609},{"k":21,"x":-0.64,"b":0.469},{"k":21,"x":-0.5,"b":0.348},{"k":21,"x":-0.3,"b":0.241},{"k":21,"x":0,"b":0.2},{"k":21,"x":0.3,"b":0.241},{"k":21,"x":0.5,"b":0.348},{"k":21,"x":0.64,"b":0.469},{"k":21,"x":0.76,"b":0.609},{"k":21,"x":0.86,"b":0.752},{"k":21,"x":0.94,"b":0.886},{"k":21,"x":1,"b":1},
{"k":20,"x":-1,"b":1},{"k":20,"x":-0.94,"b":0.883},{"k":20,"x":-0.86,"b":0.745},{"k":20,"x":-0.76,"b":0.599},{"k":20,"x":-0.64,"b":0.456},{"k":20,"x":-0.5,"b":0.333},{"k":20,"x":-0.3,"b":0.225},{"k":20,"x":0,"b":0.184},{"k":20,"x":0.3,"b":0.225},{"k":20,"x":0.5,"b":0.333},{"k":20,"x":0.64,"b":0.456},{"k":20,"x":0.76,"b":0.599},{"k":20,"x":0.86,"b":0.745},{"k":20,"x":0.94,"b":0.883},{"k":20,"x":1,"b":1},
{"k":19,"x":-1,"b":1},{"k":19,"x":-0.94,"b":0.88},{"k":19,"x":-0.86,"b":0.739},{"k":19,"x":-0.76,"b":0.589},{"k":19,"x":-0.64,"b":0.443},{"k":19,"x":-0.5,"b":0.317},{"k":19,"x":-0.3,"b":0.209},{"k":19,"x":0,"b":0.168},{"k":19,"x":0.3,"b":0.209},{"k":19,"x":0.5,"b":0.317},{"k":19,"x":0.64,"b":0.443},{"k":19,"x":0.76,"b":0.589},{"k":19,"x":0.86,"b":0.739},{"k":19,"x":0.94,"b":0.88},{"k":19,"x":1,"b":1},
{"k":18,"x":-1,"b":1},{"k":18,"x":-0.94,"b":0.877},{"k":18,"x":-0.86,"b":0.732},{"k":18,"x":-0.76,"b":0.578},{"k":18,"x":-0.64,"b":0.43},{"k":18,"x":-0.5,"b":0.302},{"k":18,"x":-0.3,"b":0.193},{"k":18,"x":0,"b":0.152},{"k":18,"x":0.3,"b":0.193},{"k":18,"x":0.5,"b":0.302},{"k":18,"x":0.64,"b":0.43},{"k":18,"x":0.76,"b":0.578},{"k":18,"x":0.86,"b":0.732},{"k":18,"x":0.94,"b":0.877},{"k":18,"x":1,"b":1},
{"k":17,"x":-1,"b":1},{"k":17,"x":-0.94,"b":0.874},{"k":17,"x":-0.86,"b":0.725},{"k":17,"x":-0.76,"b":0.568},{"k":17,"x":-0.64,"b":0.417},{"k":17,"x":-0.5,"b":0.287},{"k":17,"x":-0.3,"b":0.177},{"k":17,"x":0,"b":0.136},{"k":17,"x":0.3,"b":0.177},{"k":17,"x":0.5,"b":0.287},{"k":17,"x":0.64,"b":0.417},{"k":17,"x":0.76,"b":0.568},{"k":17,"x":0.86,"b":0.725},{"k":17,"x":0.94,"b":0.874},{"k":17,"x":1,"b":1},
{"k":16,"x":-1,"b":1},{"k":16,"x":-0.94,"b":0.871},{"k":16,"x":-0.86,"b":0.719},{"k":16,"x":-0.76,"b":0.558},{"k":16,"x":-0.64,"b":0.403},{"k":16,"x":-0.5,"b":0.272},{"k":16,"x":-0.3,"b":0.161},{"k":16,"x":0,"b":0.12},{"k":16,"x":0.3,"b":0.161},{"k":16,"x":0.5,"b":0.272},{"k":16,"x":0.64,"b":0.403},{"k":16,"x":0.76,"b":0.558},{"k":16,"x":0.86,"b":0.719},{"k":16,"x":0.94,"b":0.871},{"k":16,"x":1,"b":1},
{"k":15,"x":-1,"b":1},{"k":15,"x":-0.94,"b":0.868},{"k":15,"x":-0.86,"b":0.712},{"k":15,"x":-0.76,"b":0.547},{"k":15,"x":-0.64,"b":0.39},{"k":15,"x":-0.5,"b":0.256},{"k":15,"x":-0.3,"b":0.144},{"k":15,"x":0,"b":0.104},{"k":15,"x":0.3,"b":0.144},{"k":15,"x":0.5,"b":0.256},{"k":15,"x":0.64,"b":0.39},{"k":15,"x":0.76,"b":0.547},{"k":15,"x":0.86,"b":0.712},{"k":15,"x":0.94,"b":0.868},{"k":15,"x":1,"b":1},
{"k":14,"x":-1,"b":1},{"k":14,"x":-0.94,"b":0.864},{"k":14,"x":-0.86,"b":0.705},{"k":14,"x":-0.76,"b":0.537},{"k":14,"x":-0.64,"b":0.376},{"k":14,"x":-0.5,"b":0.241},{"k":14,"x":-0.3,"b":0.128},{"k":14,"x":0,"b":0.088},{"k":14,"x":0.3,"b":0.128},{"k":14,"x":0.5,"b":0.241},{"k":14,"x":0.64,"b":0.376},{"k":14,"x":0.76,"b":0.537},{"k":14,"x":0.86,"b":0.705},{"k":14,"x":0.94,"b":0.864},{"k":14,"x":1,"b":1},
{"k":13,"x":-1,"b":1},{"k":13,"x":-0.94,"b":0.861},{"k":13,"x":-0.86,"b":0.698},{"k":13,"x":-0.76,"b":0.526},{"k":13,"x":-0.64,"b":0.362},{"k":13,"x":-0.5,"b":0.225},{"k":13,"x":-0.3,"b":0.112},{"k":13,"x":0,"b":0.072},{"k":13,"x":0.3,"b":0.112},{"k":13,"x":0.5,"b":0.225},{"k":13,"x":0.64,"b":0.362},{"k":13,"x":0.76,"b":0.526},{"k":13,"x":0.86,"b":0.698},{"k":13,"x":0.94,"b":0.861},{"k":13,"x":1,"b":1},
{"k":12,"x":-1,"b":1},{"k":12,"x":-0.94,"b":0.858},{"k":12,"x":-0.86,"b":0.691},{"k":12,"x":-0.76,"b":0.515},{"k":12,"x":-0.64,"b":0.349},{"k":12,"x":-0.5,"b":0.209},{"k":12,"x":-0.3,"b":0.096},{"k":12,"x":0,"b":0.056},{"k":12,"x":0.3,"b":0.096},{"k":12,"x":0.5,"b":0.209},{"k":12,"x":0.64,"b":0.349},{"k":12,"x":0.76,"b":0.515},{"k":12,"x":0.86,"b":0.691},{"k":12,"x":0.94,"b":0.858},{"k":12,"x":1,"b":1},
{"k":11,"x":-1,"b":1},{"k":11,"x":-0.94,"b":0.855},{"k":11,"x":-0.86,"b":0.684},{"k":11,"x":-0.76,"b":0.506},{"k":11,"x":-0.64,"b":0.337},{"k":11,"x":-0.5,"b":0.196},{"k":11,"x":-0.3,"b":0.082},{"k":11,"x":0,"b":0.042},{"k":11,"x":0.3,"b":0.082},{"k":11,"x":0.5,"b":0.196},{"k":11,"x":0.64,"b":0.337},{"k":11,"x":0.76,"b":0.506},{"k":11,"x":0.86,"b":0.684},{"k":11,"x":0.94,"b":0.855},{"k":11,"x":1,"b":1},
{"k":10,"x":-1,"b":1},{"k":10,"x":-0.94,"b":0.852},{"k":10,"x":-0.86,"b":0.679},{"k":10,"x":-0.76,"b":0.497},{"k":10,"x":-0.64,"b":0.326},{"k":10,"x":-0.5,"b":0.184},{"k":10,"x":-0.3,"b":0.069},{"k":10,"x":0,"b":0.03},{"k":10,"x":0.3,"b":0.069},{"k":10,"x":0.5,"b":0.184},{"k":10,"x":0.64,"b":0.326},{"k":10,"x":0.76,"b":0.497},{"k":10,"x":0.86,"b":0.679},{"k":10,"x":0.94,"b":0.852},{"k":10,"x":1,"b":1},
{"k":9,"x":-1,"b":1},{"k":9,"x":-0.94,"b":0.85},{"k":9,"x":-0.86,"b":0.675},{"k":9,"x":-0.76,"b":0.49},{"k":9,"x":-0.64,"b":0.317},{"k":9,"x":-0.5,"b":0.174},{"k":9,"x":-0.3,"b":0.059},{"k":9,"x":0,"b":0.02},{"k":9,"x":0.3,"b":0.059},{"k":9,"x":0.5,"b":0.174},{"k":9,"x":0.64,"b":0.317},{"k":9,"x":0.76,"b":0.49},{"k":9,"x":0.86,"b":0.675},{"k":9,"x":0.94,"b":0.85},{"k":9,"x":1,"b":1},
{"k":8,"x":-1,"b":1},{"k":8,"x":-0.94,"b":0.849},{"k":8,"x":-0.86,"b":0.671},{"k":8,"x":-0.76,"b":0.485},{"k":8,"x":-0.64,"b":0.31},{"k":8,"x":-0.5,"b":0.166},{"k":8,"x":-0.3,"b":0.051},{"k":8,"x":0,"b":0.012},{"k":8,"x":0.3,"b":0.051},{"k":8,"x":0.5,"b":0.166},{"k":8,"x":0.64,"b":0.31},{"k":8,"x":0.76,"b":0.485},{"k":8,"x":0.86,"b":0.671},{"k":8,"x":0.94,"b":0.849},{"k":8,"x":1,"b":1},
{"k":7,"x":-1,"b":1},{"k":7,"x":-0.94,"b":0.847},{"k":7,"x":-0.86,"b":0.668},{"k":7,"x":-0.76,"b":0.48},{"k":7,"x":-0.64,"b":0.304},{"k":7,"x":-0.5,"b":0.159},{"k":7,"x":-0.3,"b":0.044},{"k":7,"x":0,"b":0.005},{"k":7,"x":0.3,"b":0.044},{"k":7,"x":0.5,"b":0.159},{"k":7,"x":0.64,"b":0.304},{"k":7,"x":0.76,"b":0.48},{"k":7,"x":0.86,"b":0.668},{"k":7,"x":0.94,"b":0.847},{"k":7,"x":1,"b":1},
{"k":6,"x":-1,"b":1},{"k":6,"x":-0.951,"b":0.871},{"k":6,"x":-0.902,"b":0.752},{"k":6,"x":-0.804,"b":0.547},{"k":6,"x":-0.706,"b":0.382},{"k":6,"x":-0.608,"b":0.252},{"k":6,"x":-0.51,"b":0.154},{"k":6,"x":-0.412,"b":0.084},{"k":6,"x":-0.314,"b":0.039},{"k":6,"x":-0.216,"b":0.013},{"k":6,"x":-0.02,"b":0},{"k":6,"x":0,"b":0},{"k":6,"x":0.02,"b":0},{"k":6,"x":0.216,"b":0.013},{"k":6,"x":0.314,"b":0.039},{"k":6,"x":0.412,"b":0.084},{"k":6,"x":0.51,"b":0.154},{"k":6,"x":0.608,"b":0.252},{"k":6,"x":0.706,"b":0.382},{"k":6,"x":0.804,"b":0.547},{"k":6,"x":0.902,"b":0.752},{"k":6,"x":0.951,"b":0.871},{"k":6,"x":1,"b":1},
{"k":5,"x":-1,"b":1},{"k":5,"x":-0.955,"b":0.871},{"k":5,"x":-0.911,"b":0.752},{"k":5,"x":-0.821,"b":0.547},{"k":5,"x":-0.732,"b":0.382},{"k":5,"x":-0.642,"b":0.252},{"k":5,"x":-0.553,"b":0.154},{"k":5,"x":-0.464,"b":0.084},{"k":5,"x":-0.374,"b":0.039},{"k":5,"x":-0.285,"b":0.013},{"k":5,"x":-0.106,"b":0},{"k":5,"x":0,"b":0},{"k":5,"x":0.106,"b":0},{"k":5,"x":0.285,"b":0.013},{"k":5,"x":0.374,"b":0.039},{"k":5,"x":0.464,"b":0.084},{"k":5,"x":0.553,"b":0.154},{"k":5,"x":0.642,"b":0.252},{"k":5,"x":0.732,"b":0.382},{"k":5,"x":0.821,"b":0.547},{"k":5,"x":0.911,"b":0.752},{"k":5,"x":0.955,"b":0.871},{"k":5,"x":1,"b":1},
{"k":4,"x":-1,"b":1},{"k":4,"x":-0.96,"b":0.871},{"k":4,"x":-0.92,"b":0.752},{"k":4,"x":-0.84,"b":0.547},{"k":4,"x":-0.76,"b":0.382},{"k":4,"x":-0.68,"b":0.252},{"k":4,"x":-0.6,"b":0.154},{"k":4,"x":-0.52,"b":0.084},{"k":4,"x":-0.44,"b":0.039},{"k":4,"x":-0.36,"b":0.013},{"k":4,"x":-0.2,"b":0},{"k":4,"x":0,"b":0},{"k":4,"x":0.2,"b":0},{"k":4,"x":0.36,"b":0.013},{"k":4,"x":0.44,"b":0.039},{"k":4,"x":0.52,"b":0.084},{"k":4,"x":0.6,"b":0.154},{"k":4,"x":0.68,"b":0.252},{"k":4,"x":0.76,"b":0.382},{"k":4,"x":0.84,"b":0.547},{"k":4,"x":0.92,"b":0.752},{"k":4,"x":0.96,"b":0.871},{"k":4,"x":1,"b":1},
{"k":3,"x":-1,"b":1},{"k":3,"x":-0.965,"b":0.871},{"k":3,"x":-0.931,"b":0.752},{"k":3,"x":-0.861,"b":0.547},{"k":3,"x":-0.792,"b":0.382},{"k":3,"x":-0.723,"b":0.252},{"k":3,"x":-0.654,"b":0.154},{"k":3,"x":-0.584,"b":0.084},{"k":3,"x":-0.515,"b":0.039},{"k":3,"x":-0.446,"b":0.013},{"k":3,"x":-0.307,"b":0},{"k":3,"x":0,"b":0},{"k":3,"x":0.307,"b":0},{"k":3,"x":0.446,"b":0.013},{"k":3,"x":0.515,"b":0.039},{"k":3,"x":0.584,"b":0.084},{"k":3,"x":0.654,"b":0.154},{"k":3,"x":0.723,"b":0.252},{"k":3,"x":0.792,"b":0.382},{"k":3,"x":0.861,"b":0.547},{"k":3,"x":0.931,"b":0.752},{"k":3,"x":0.965,"b":0.871},{"k":3,"x":1,"b":1},
{"k":2,"x":-1,"b":1},{"k":2,"x":-0.972,"b":0.871},{"k":2,"x":-0.943,"b":0.752},{"k":2,"x":-0.887,"b":0.547},{"k":2,"x":-0.83,"b":0.382},{"k":2,"x":-0.774,"b":0.252},{"k":2,"x":-0.717,"b":0.154},{"k":2,"x":-0.66,"b":0.084},{"k":2,"x":-0.604,"b":0.039},{"k":2,"x":-0.547,"b":0.013},{"k":2,"x":-0.434,"b":0},{"k":2,"x":0,"b":0},{"k":2,"x":0.434,"b":0},{"k":2,"x":0.547,"b":0.013},{"k":2,"x":0.604,"b":0.039},{"k":2,"x":0.66,"b":0.084},{"k":2,"x":0.717,"b":0.154},{"k":2,"x":0.774,"b":0.252},{"k":2,"x":0.83,"b":0.382},{"k":2,"x":0.887,"b":0.547},{"k":2,"x":0.943,"b":0.752},{"k":2,"x":0.972,"b":0.871},{"k":2,"x":1,"b":1},
{"k":1,"x":-1,"b":1},{"k":1,"x":-0.98,"b":0.871},{"k":1,"x":-0.96,"b":0.752},{"k":1,"x":-0.92,"b":0.547},{"k":1,"x":-0.88,"b":0.382},{"k":1,"x":-0.84,"b":0.252},{"k":1,"x":-0.8,"b":0.154},{"k":1,"x":-0.76,"b":0.084},{"k":1,"x":-0.72,"b":0.039},{"k":1,"x":-0.68,"b":0.013},{"k":1,"x":-0.6,"b":0},{"k":1,"x":0,"b":0},{"k":1,"x":0.6,"b":0},{"k":1,"x":0.68,"b":0.013},{"k":1,"x":0.72,"b":0.039},{"k":1,"x":0.76,"b":0.084},{"k":1,"x":0.8,"b":0.154},{"k":1,"x":0.84,"b":0.252},{"k":1,"x":0.88,"b":0.382},{"k":1,"x":0.92,"b":0.547},{"k":1,"x":0.96,"b":0.752},{"k":1,"x":0.98,"b":0.871},{"k":1,"x":1,"b":1}
]},
"encoding":{
"x":{"field":"x","type":"quantitative","scale":{"domain":[-1,1],"nice":false,"zero":false},
"axis":{"values":[-1,-0.8,-0.6,-0.4,-0.2,0,0.2,0.4,0.6,0.8,1],"domain":false,"grid":false,"tickSize":33,"tickWidth":4,"tickColor":"#14148c",
"labelExpr":"datum.value == -1 ? '-1' : (datum.value == 0 ? '0' : (datum.value == 1 ? '1' : ''))",
"labelFont":"Liberation Sans","labelFontSize":56,"labelFontWeight":"bold","labelColor":"#0000ff","labelAlign":"center","labelBaseline":"alphabetic","labelFlush":false,"labelOverlap":false,
"labelPadding":{"condition":{"test":"datum.value == 1","value":57},"value":61},
"labelOffset":{"condition":{"test":"datum.value < 0","value":-6},"value":8},
"title":"x","titleFont":"Liberation Sans","titleFontSize":56,"titleFontWeight":"bold","titleColor":"#0000ff","titleAngle":0,"titleAlign":"center","titleBaseline":"alphabetic","titleX":947,"titleY":94}},
"y":{"field":"b","type":"quantitative","scale":{"domain":[0,1],"nice":false,"zero":false},
"axis":{"values":[0,0.2,0.4,0.6,0.8,1],"domain":false,"grid":false,"tickSize":39,"tickWidth":4,"tickColor":"#14148c",
"labelExpr":"datum.value == 0 ? '0' : (datum.value == 1 ? '1' : '')",
"labelFont":"Liberation Sans","labelFontSize":56,"labelFontWeight":"bold","labelColor":"#0000ff","labelAlign":"right","labelBaseline":"middle","labelOverlap":false,"labelFlush":false,
"labelPadding":{"condition":{"test":"datum.value == 0","value":25},"value":42},
"labelOffset":{"condition":{"test":"datum.value == 0","value":-52},"value":5},
"title":"B(x)","titleFont":"Liberation Sans","titleFontSize":56,"titleFontWeight":"bold","titleColor":"#0000ff","titleAngle":0,"titleAlign":"left","titleBaseline":"alphabetic","titleX":-121,"titleY":374}},
"color":{"field":"k","type":"quantitative","scale":{"type":"linear","domain":[1,7,37,50,60,73],"range":["#000000","#000000","#66ff22","#ccff33","#ffff44","#ffff55"],"interpolate":"rgb"},"legend":null},
"size":{"field":"k","type":"quantitative","scale":{"type":"linear","domain":[1,6,7,39,56,57,62,66,72,73],"range":[3,3,3,4.5,6,5,8,11,11,5]},"legend":null},
"detail":{"field":"k","type":"nominal"}
},
"layer":[
{"transform":[{"filter":{"field":"k","gte":57}}],"mark":{"type":"line","interpolate":"monotone","clip":true}},
{"transform":[{"filter":{"field":"k","range":[40,56]}}],"mark":{"type":"line","interpolate":"monotone","clip":true}},
{"transform":[{"filter":{"field":"k","lte":39}}],"mark":{"type":"line","interpolate":"monotone","clip":true}}
]
}
